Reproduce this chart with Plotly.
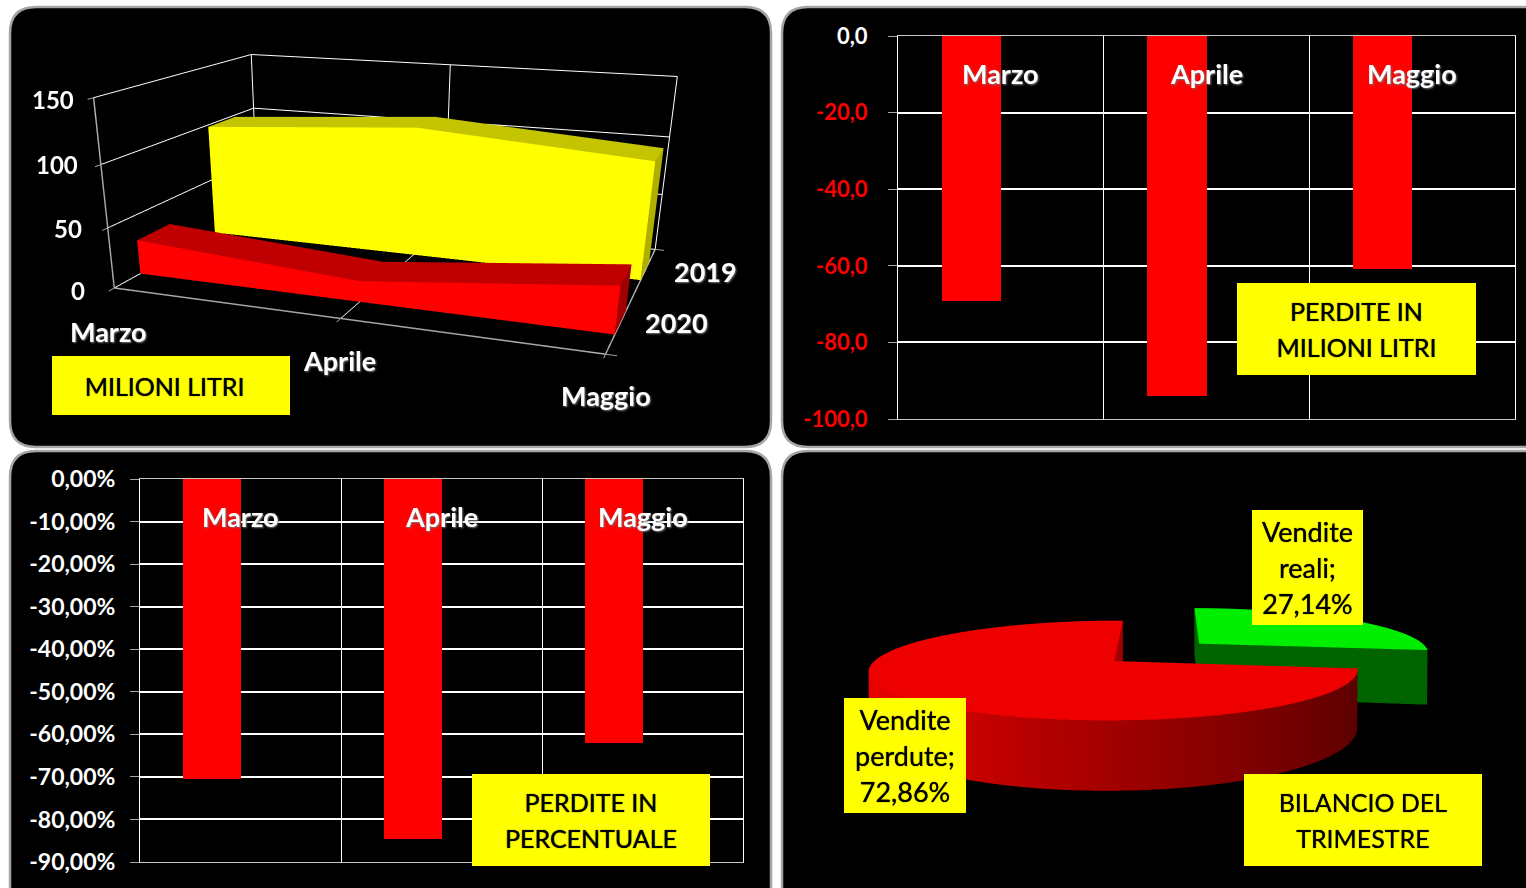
import numpy as np
import plotly.graph_objects as go

W, H = 1526, 888
months = ["Marzo", "Aprile", "Maggio"]
series_years = ["2019", "2020"]
litri_2019 = [98.3, 110.9, 98.1]
litri_2020 = [29.0, 17.0, 37.3]
perdite_litri = [-69.3, -93.9, -60.8]
perdite_pct = [-70.5, -84.7, -62.0]
litri_ticks = [0, -20, -40, -60, -80, -100]
pct_ticks = [0, -10, -20, -30, -40, -50, -60, -70, -80, -90]
z_ticks = [0, 50, 100, 150]
pie_labels = ["Vendite perdute", "Vendite reali"]
pie_values = [72.86, 27.14]
FONT = "Lato"

PIE_LIMIT = 1.6
PIE_EXPLODE = (0.3627, 0.3938)


def px_x(x):
    return x / W


def px_y(y):
    return 1 - y / H


def panel(x0, y0, x1, y1, r=26):
    X0, X1, Y0, Y1 = px_x(x0), px_x(x1), px_y(y0), px_y(y1)
    rx, ry = r / W, r / H
    path = (f"M {X0+rx} {Y0} L {X1-rx} {Y0} Q {X1} {Y0} {X1} {Y0-ry} L {X1} {Y1+ry} Q {X1} {Y1} {X1-rx} {Y1} "
            f"L {X0+rx} {Y1} Q {X0} {Y1} {X0} {Y1+ry} L {X0} {Y0-ry} Q {X0} {Y0} {X0+rx} {Y0} Z")
    return dict(type="path", xref="paper", yref="paper", path=path, fillcolor="#000000",
                line=dict(color="#a6a6a6", width=2.5), layer="below")


def box(x0, y0, x1, y1, lines, size=25, weight=400):
    text = "<br>".join(f'<span style="font-size:{size}px">{l}</span>' for l in lines)
    return dict(xref="paper", yref="paper", x=px_x((x0 + x1) / 2), y=px_y((y0 + y1) / 2), xanchor="center", yanchor="middle",
                width=x1 - x0, height=y1 - y0, bgcolor="#ffff00", showarrow=False, align="center", borderpad=0, borderwidth=0,
                text=text, font=dict(family=FONT, size=28, color="#000000", weight=weight, shadow="0 0 1px #000000"))


fig = go.Figure()
label_font = dict(family=FONT, size=27, color="#ffffff", weight=700, shadow="1px 1px 2px #777777")


def bars(values, xa, ya, ticks, ticktext, dom_x, dom_y, label_y, standoff, tsize):
    idx = list(range(len(months)))
    fig.add_bar(x=idx, y=values, xaxis=xa, yaxis=ya, width=0.287, offset=-0.287,
                marker=dict(color="#ff0000", line=dict(width=0)), name="", showlegend=False)
    k = xa[1:]
    fig.layout["xaxis" + k] = dict(domain=[px_x(dom_x[0]), px_x(dom_x[1])], range=[-.5, 2.5], anchor=ya, side="top", automargin=False,
        tickvals=[-.5, .5, 1.5, 2.5], showticklabels=False, ticks="", showgrid=True, gridcolor="#ffffff", gridwidth=1,
        showline=True, mirror=True, linecolor="#c8c8c8", linewidth=1, zeroline=False)
    fig.layout["yaxis" + k] = dict(domain=[px_y(dom_y[1]), px_y(dom_y[0])], range=[ticks[-1], 0], anchor=xa, automargin=False,
        tickvals=ticks, ticktext=ticktext, ticks="outside", ticklen=9, tickcolor="#a6a6a6", tickwidth=1,
        ticklabelstandoff=standoff, tickfont=dict(family=FONT, size=tsize, color="#ffffff", weight=700),
        showgrid=True, gridcolor="#ffffff", gridwidth=1.5,
        showline=True, mirror=True, linecolor="#ffffff", linewidth=1, zeroline=False)
    return [dict(xref=xa, yref=ya, x=i, y=label_y, text=m, showarrow=False, font=label_font) for i, m in zip(idx, months)]


def neg(t):
    s = f"{t:.1f}".replace(".", ",")
    return s if t == 0 else f'<span style="color:#ff0000">{s}</span>'


ann = []
ann += bars(perdite_litri, "x2", "y2", litri_ticks, [neg(t) for t in litri_ticks], (898, 1515), (36, 419), -9.9, 16, 22)
ann += bars(perdite_pct, "x3", "y3", pct_ticks, [f"{t},00%" for t in pct_ticks], (140, 743), (479, 862), -8.9, 10, 23)


def slab(values, y0, y1, front, top, side, name):
    n = len(values)
    xs, ys, zs, I, J, K, fc = [], [], [], [], [], [], []
    for yy in (y0, y1):
        for i, v in enumerate(values):
            xs += [i, i]
            ys += [yy, yy]
            zs += [0, v]

    def idx(b, i, up):
        return b * 2 * n + 2 * i + up

    def quad(a, b, c, d, col):
        I.extend([a, a])
        J.extend([b, c])
        K.extend([c, d])
        fc.extend([col, col])

    for i in range(n - 1):
        quad(idx(0, i, 0), idx(0, i + 1, 0), idx(0, i + 1, 1), idx(0, i, 1), front)
        quad(idx(0, i, 1), idx(0, i + 1, 1), idx(1, i + 1, 1), idx(1, i, 1), top)
        quad(idx(1, i, 0), idx(1, i + 1, 0), idx(1, i + 1, 1), idx(1, i, 1), side)
    quad(idx(0, n - 1, 0), idx(1, n - 1, 0), idx(1, n - 1, 1), idx(0, n - 1, 1), side)
    quad(idx(0, 0, 0), idx(1, 0, 0), idx(1, 0, 1), idx(0, 0, 1), side)
    return go.Mesh3d(x=xs, y=ys, z=zs, i=I, j=J, k=K, facecolor=fc, flatshading=True, scene="scene", name=name,
                     lighting=dict(ambient=1, diffuse=0, specular=0, roughness=1, fresnel=0), hoverinfo="skip", showscale=False)


fig.add_trace(slab(litri_2019, .65, .85, "#ffff00", "#c4c400", "#afaf00", series_years[0]))
fig.add_trace(slab(litri_2020, .15, .35, "#ff0000", "#c00000", "#a00000", series_years[1]))


def cam(eye, center, up):
    return dict(eye=dict(zip("xyz", eye)), center=dict(zip("xyz", center)), up=dict(zip("xyz", up)),
                projection=dict(type="perspective"))


def ax3(rng, tickvals):
    return dict(range=rng, autorange=False, tickvals=tickvals, showticklabels=False, title=dict(text=""), showbackground=False,
                showgrid=True, gridcolor="#ffffff", gridwidth=2, zeroline=False, showspikes=False,
                showline=True, linecolor="#a6a6a6", linewidth=3, ticks="outside", ticklen=8, tickcolor="#a6a6a6", tickwidth=2)


s_font = dict(family=FONT, size=27, color="#ffffff", weight=700, shadow="1px 1px 2px #777777")
t_font = dict(family=FONT, size=24, color="#ffffff", weight=700)
scene_ann = []
for zv, xs, ys in zip(z_ticks, (-27, -24, -21, -18), (-3, -1, 0, -2)):
    scene_ann.append(dict(x=0, y=0, z=zv, text=str(zv), showarrow=False, xanchor="right", xshift=xs, yshift=ys, font=t_font))
for i, (m, xs, ys) in enumerate(zip(months, (-6, -1, 0), (-44, -42, -41))):
    scene_ann.append(dict(x=i, y=0, z=0, text=m, showarrow=False, xshift=xs, yshift=ys, font=s_font))
for yr, yy, xs, ys in zip(series_years, (.75, .25), (60, 56), (-1, 0)):
    scene_ann.append(dict(x=2, y=yy, z=0, text=yr, showarrow=False, xshift=xs, yshift=ys, font=s_font))

fig.layout.scene = dict(domain=dict(x=[0, px_x(720.2)], y=[0, 1]), bgcolor="rgba(0,0,0,0)",
    camera=cam((.7231, -2.1199, .5235), (-.1031, .0347, -.6509), (.0037, .0014, 1)),
    aspectmode="manual", aspectratio=dict(x=1, y=.6736, z=.3758),
    xaxis=ax3([0, 2], [0, 1, 2]), yaxis=ax3([0, 1], [0, 1]), zaxis=ax3([0, 150], z_ticks), annotations=scene_ann)


def sector(a0, a1, ox, oy, top, side_l, side_r, cut, name):
    ang = np.radians(np.arange(a0, a1, 1.5).tolist() + [a1])
    sx, cy = ox + np.sin(ang), oy + np.cos(ang)
    m = len(ang)
    xs, ys, zs, vc, I, J, K = [], [], [], [], [], [], []

    def col(x):
        t = float(np.clip((x - ox + 1) / 2, 0, 1))
        return "rgb(%d,%d,%d)" % tuple(side_l[c] + (side_r[c] - side_l[c]) * t for c in range(3))

    xs += [ox] + list(sx)
    ys += [oy] + list(cy)
    zs += [1] * (m + 1)
    vc += [top] * (m + 1)
    for q in range(m - 1):
        I.append(0)
        J.append(q + 1)
        K.append(q + 2)
    b = len(xs)
    for q in range(m):
        xs += [sx[q], sx[q]]
        ys += [cy[q], cy[q]]
        zs += [0, 1]
        vc += [col(sx[q])] * 2
    for q in range(m - 1):
        a = b + 2 * q
        I += [a, a]
        J += [a + 2, a + 3]
        K += [a + 3, a + 1]
    for q in (0, m - 1):
        b = len(xs)
        xs += [ox, sx[q], sx[q], ox]
        ys += [oy, cy[q], cy[q], oy]
        zs += [0, 0, 1, 1]
        vc += [cut] * 4
        I += [b, b]
        J += [b + 1, b + 2]
        K += [b + 2, b + 3]
    return go.Mesh3d(x=xs, y=ys, z=zs, i=I, j=J, k=K, vertexcolor=vc, flatshading=False, scene="scene2", name=name,
                     lighting=dict(ambient=1, diffuse=0, specular=0, roughness=1, fresnel=0), hoverinfo="skip", showscale=False)


ang_green = 360 * pie_values[1] / sum(pie_values)
fig.add_trace(sector(ang_green, 360, 0, 0, "#ee0000", (240, 0, 0), (90, 0, 0), "#a00000", pie_labels[0]))
fig.add_trace(sector(0, ang_green, PIE_EXPLODE[0], PIE_EXPLODE[1], "#00ee00", (0, 100, 0), (0, 100, 0), "#006400", pie_labels[1]))

hidden = dict(visible=False, showgrid=False, zeroline=False, showticklabels=False, title=dict(text=""), showbackground=False)
fig.layout.scene2 = dict(domain=dict(x=[px_x(782), 1], y=[0, 1]), bgcolor="rgba(0,0,0,0)",
    camera=cam((.0695, -1.3841, .3685), (.0608, -.7114, .3451), (.0118, .0001, 1)),
    aspectmode="manual", aspectratio=dict(x=1, y=.8467, z=.0751),
    xaxis=dict(hidden, range=[-PIE_LIMIT, PIE_LIMIT], autorange=False),
    yaxis=dict(hidden, range=[-PIE_LIMIT, PIE_LIMIT], autorange=False),
    zaxis=dict(hidden, range=[0, 1], autorange=False))

ann += [box(52, 356, 290, 415, ["MILIONI LITRI&nbsp;&nbsp;"]),
        box(1237, 283, 1476, 375, ["PERDITE IN", "MILIONI LITRI"]),
        box(472, 774, 710, 866, ["PERDITE IN", "PERCENTUALE"]),
        box(1244, 774, 1482, 866, ["BILANCIO DEL", "TRIMESTRE"]),
        box(1252, 510, 1363, 625, ["Vendite", "reali;", "27,14%"], size=27),
        box(844, 698, 966, 813, ["Vendite", "perdute;", "72,86%"], size=27)]

fig.update_layout(width=W, height=H, margin=dict(l=0, r=0, t=0, b=0), autosize=False, paper_bgcolor="#ffffff",
    plot_bgcolor="#000000", showlegend=False, bargap=0, template="none",
    shapes=[panel(10, 7, 771, 447), panel(782, 7, 1560, 447), panel(10, 451, 771, 920), panel(782, 451, 1560, 920)],
    annotations=ann, font=dict(family=FONT))
fig.update_layout(xaxis=dict(visible=False), yaxis=dict(visible=False))
fig.write_html("out.html", config=dict(displayModeBar=False), post_script="document.body.style.margin='0';document.body.style.overflow='hidden';")
